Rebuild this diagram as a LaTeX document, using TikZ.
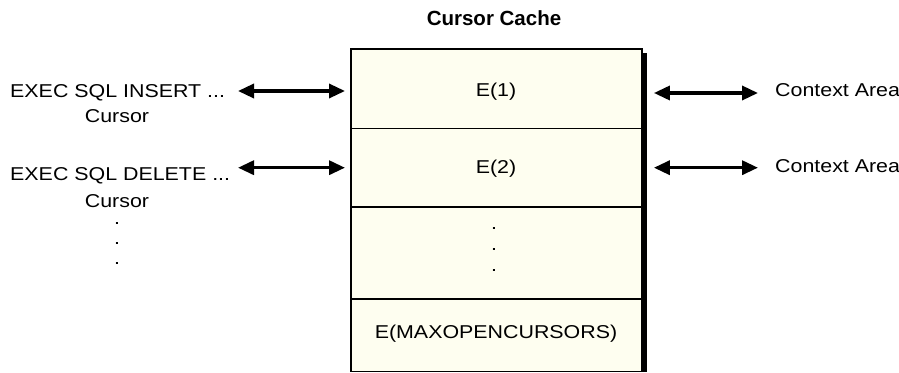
\documentclass[tikz,border=0pt]{standalone}
\usepackage{fontspec}
\setmainfont{Liberation Sans}
\newfontfamily\labfont[FakeStretch=1.15]{Liberation Sans}
\usetikzlibrary{arrows.meta}
\definecolor{cream}{RGB}{254,254,240}
\begin{document}
\begin{tikzpicture}[x=1bp,y=1bp,
  lab/.style={font=\labfont\fontsize{18.6bp}{22bp}\selectfont, inner sep=0pt},
  rowbox/.style={draw, line width=0.9bp, fill=cream, minimum width=290bp, inner sep=0pt, anchor=north west},
  dbl/.style={line width=3.4bp, {Triangle[length=16bp,width=14bp]}-{Triangle[length=16bp,width=14bp]}}]
\useasboundingbox (0,0) rectangle (899,372);
% shadow
\fill (355,0) rectangle (647,5);
\fill (640,0) rectangle (647,319);
% rows
\node[rowbox, minimum height=78.5bp] (r1) at (351,323) {};
\node[rowbox, minimum height=77.5bp] (r2) at (r1.south west) {};
\node[rowbox, minimum height=91bp] (r3) at (r2.south west) {};
\node[rowbox, minimum height=72bp] (r4) at (r3.south west) {};
\draw[line width=1.4bp] (r1.north west) rectangle (r4.south east);
% title
\node[font=\bfseries\fontsize{20.5bp}{24bp}\selectfont, inner sep=0pt, anchor=base] (title) at (494,347) {Cursor Cache};
% row texts
\node[lab, anchor=base] (e1) at (496,275.5) {E(1)};
\node[lab, anchor=base] (e2) at (496,198.7) {E(2)};
\node[lab, anchor=base] (d1) at (494,143) {.};
\node[lab, anchor=base] (d2) at (494,122) {.};
\node[lab, anchor=base] (d3) at (494,101) {.};
\node[lab, anchor=base] (emax) at (496,33.7) {E(MAXOPENCURSORS)};
% left texts
\node[lab, anchor=base west] (ins) at (10,275) {EXEC SQL INSERT ...};
\node[lab, anchor=base] (c1) at (117,250) {Cursor};
\node[lab, anchor=base west] (del) at (10,192) {EXEC SQL DELETE ...};
\node[lab, anchor=base] (c2) at (117,165) {Cursor};
\node[lab, anchor=base] (l1) at (117,148) {.};
\node[lab, anchor=base] (l2) at (117,128) {.};
\node[lab, anchor=base] (l3) at (117,108) {.};
% right texts
\node[lab, anchor=base west] (ca1) at (775,276) {Context Area};
\node[lab, anchor=base west] (ca2) at (775,200) {Context Area};
% arrow endpoints
\coordinate (a1) at (238,281);
\coordinate (a2) at (238,204.3);
\coordinate (b1) at (758,279);
\coordinate (b2) at (758,204.3);
\draw[dbl] (a1) -- ([xshift=-6bp]a1 -| r1.west);
\draw[dbl] (a2) -- ([xshift=-6bp]a2 -| r2.west);
\draw[dbl] ([xshift=12bp]b1 -| r1.east) -- (b1);
\draw[dbl] ([xshift=12bp]b2 -| r2.east) -- (b2);
\end{tikzpicture}
\end{document}
